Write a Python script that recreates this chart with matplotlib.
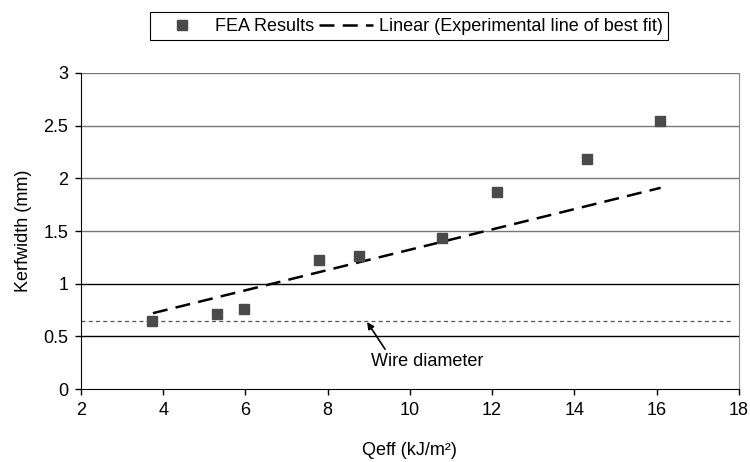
import matplotlib.pyplot as plt

plt.rcParams['font.family'] = ['Liberation Sans', 'DejaVu Sans']
plt.rcParams['font.size'] = 13

# FEA results
qeff = [3.73, 5.31, 5.97, 7.79, 8.76, 10.78, 12.12, 14.31, 16.09]
kerf = [0.65, 0.71, 0.76, 1.225, 1.265, 1.435, 1.87, 2.18, 2.545]

# experimental line of best fit (end points)
fit_x = [3.75, 16.1]
fit_y = [0.72, 1.91]

# wire diameter reference
wire_x = [2.0, 17.8]
wire_d = 0.646

fig = plt.figure(figsize=(7.5, 4.62), dpi=100)
ax = fig.add_axes([0.108, 0.158, 0.877, 0.684])

# horizontal gridlines
for yv, c in [(0.5, 'black'), (1.0, 'black'), (1.5, '#777777'),
              (2.0, '#777777'), (2.5, '#777777'), (3.0, '#777777')]:
    ax.axhline(yv, color=c, lw=1.0, zorder=1)

ax.plot(wire_x, [wire_d, wire_d], color='#555555', lw=0.9,
        dashes=(3.2, 2.6), zorder=2)

fit, = ax.plot(fit_x, fit_y, color='black', lw=1.8, zorder=3,
               label='Linear (Experimental line of best fit)')
fit.set_dashes((6, 3.3))

pts, = ax.plot(qeff, kerf, linestyle='none', marker='s', markersize=6.5,
               color='#4a4a4a', mec='#4a4a4a', zorder=4, label='FEA Results')

ax.annotate('Wire diameter', xy=(8.96, 0.636), xytext=(9.05, 0.26),
            ha='left', va='center',
            arrowprops=dict(arrowstyle='-|>', color='black', lw=1.2,
                            mutation_scale=10, shrinkA=1, shrinkB=0,
                            relpos=(0.15, 1.0)))

ax.set_xlim(2, 18)
ax.set_ylim(0, 3)
ax.set_xticks(range(2, 19, 2))
ax.set_yticks([0, 0.5, 1, 1.5, 2, 2.5, 3])
ax.set_yticklabels(['0', '0.5', '1', '1.5', '2', '2.5', '3'])
ax.tick_params(direction='out', length=4, width=1, color='black', pad=5)

ax.spines['top'].set_visible(False)
ax.spines['right'].set_color('#888888')
ax.spines['left'].set_color('black')
ax.spines['bottom'].set_color('black')

ax.set_xlabel('Qeff (kJ/m²)', labelpad=17)
ax.set_ylabel('Kerfwidth (mm)', labelpad=8)

leg = fig.legend(handles=[pts, fit], loc='center', bbox_to_anchor=(0.545, 0.943),
                 ncol=2, frameon=True, fancybox=False, edgecolor='black',
                 framealpha=1, handlelength=3.0, columnspacing=0.3,
                 handletextpad=0.3, borderpad=0.3, borderaxespad=0)
leg.get_frame().set_linewidth(0.8)

fig.savefig('out.png', dpi=100)
